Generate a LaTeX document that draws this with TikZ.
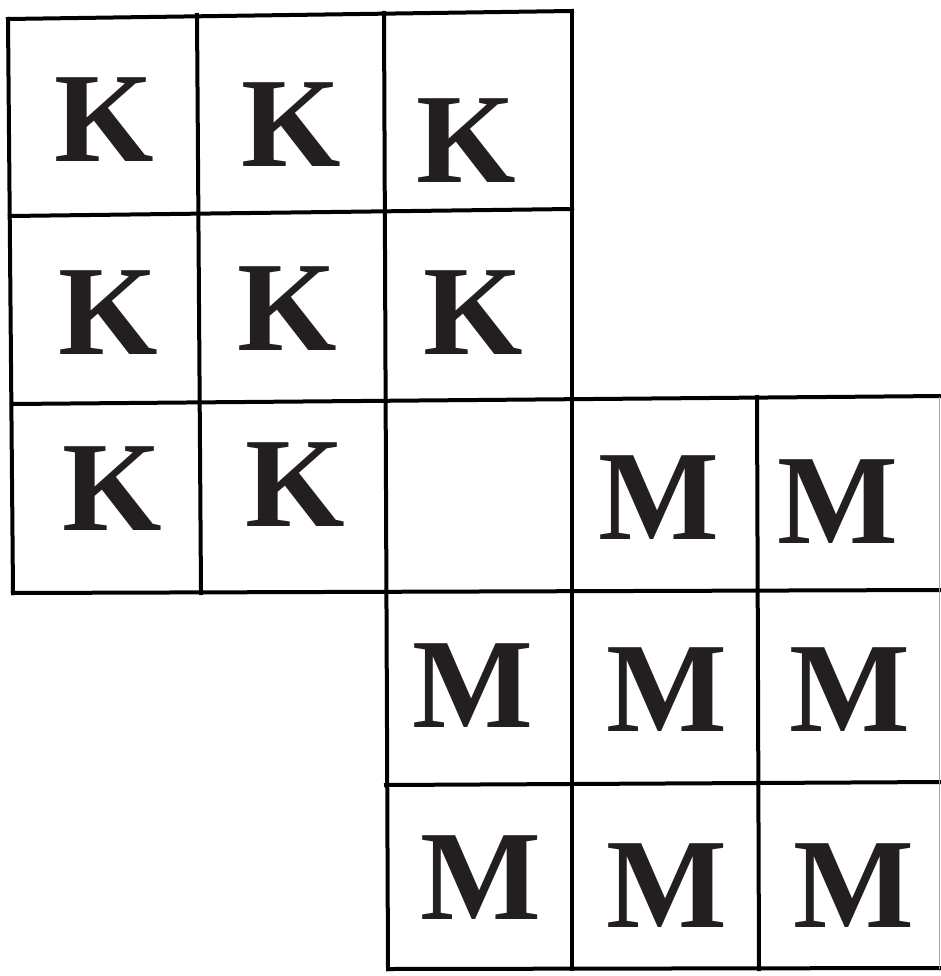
\documentclass[tikz,border=0pt]{standalone}
\usepackage{fontspec}
\setmainfont{Liberation Serif}
\definecolor{ink}{RGB}{35,31,32}
\begin{document}
\begin{tikzpicture}[x=1pt,y=-1pt,
  gridline/.style={line width=4pt,line cap=rect,black},
  letter/.style={anchor=base,inner sep=0pt,text=ink,font=\fontsize{128}{130}\selectfont\bfseries}]
\useasboundingbox[fill=white] (0,0) rectangle (940,976);
% horizontal lines
\draw[gridline] (8,19) -- (572,11);
\draw[gridline] (10,216) -- (572,209);
\draw[gridline] (12,404) -- (942,396);
\draw[gridline] (13,593) -- (942,590);
\draw[gridline] (386,785) -- (942,782);
\draw[gridline] (388,969) -- (942,968);
% vertical lines
\draw[gridline] (8,19) -- (13,593);
\draw[gridline] (197,15) -- (201,593);
\draw[gridline] (384,13) -- (388,969);
\draw[gridline] (572,11) -- (572,969);
\draw[gridline] (757,397) -- (759,969);
\draw[line width=1pt,black!35] (939.5,397) -- (939.5,969);
% K letters
\node[letter] (k11) at (104,162) {K};
\node[letter] (k12) at (291,167) {K};
\node[letter] (k13) at (466,183) {K};
\node[letter] (k21) at (108,354) {K};
\node[letter] (k22) at (287,350) {K};
\node[letter] (k23) at (473,354) {K};
\node[letter] (k31) at (112,530) {K};
\node[letter] (k32) at (295,526) {K};
% M letters
\node[letter] (m12) at (659,539.5) {M};
\node[letter] (m13) at (838,543.4) {M};
\node[letter] (m21) at (472.5,727.6) {M};
\node[letter] (m22) at (667,731) {M};
\node[letter] (m23) at (849.5,731) {M};
\node[letter] (m31) at (480.5,919.8) {M};
\node[letter] (m32) at (667,927.5) {M};
\node[letter] (m33) at (853.4,927.5) {M};
\end{tikzpicture}
\end{document}
